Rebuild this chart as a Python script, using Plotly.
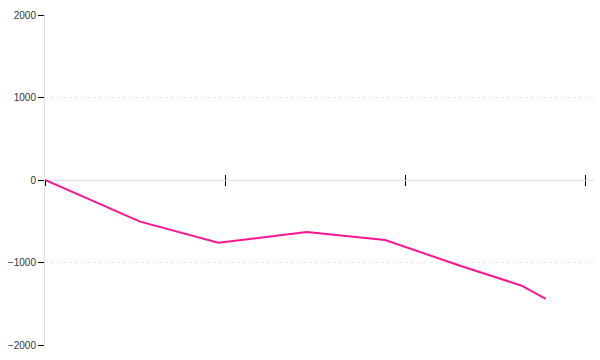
import plotly.graph_objects as go

x_vals = [0, 0.528, 0.963, 1.454, 1.889, 2.306, 2.648, 2.782]
y_vals = [0, -505, -761, -630, -727, -1039, -1281, -1442]
y_ticks = [-2000, -1000, 0, 1000, 2000]
y_tick_text = ["\u22122000", "\u22121000", "0", "1000", "2000"]
x_ticks = [0, 1, 2, 3]
x_range = [0, 3.05]

fig = go.Figure()
fig.add_trace(go.Scatter(x=x_vals, y=y_vals, mode="lines",
                         line=dict(color="#ff1493", width=2), showlegend=False,
                         cliponaxis=False))
# overlay axis for the upper half of the crossing x ticks
fig.add_trace(go.Scatter(x=[0, 3], y=[0, 0], mode="lines", line=dict(width=0),
                         xaxis="x2", showlegend=False, hoverinfo="skip"))

fig.update_layout(
    width=600, height=360,
    margin=dict(l=45, r=6, t=15, b=15, autoexpand=False),
    paper_bgcolor="white", plot_bgcolor="white",
    font=dict(family="Liberation Sans", size=10, color="#333"),
    xaxis=dict(range=x_range, tickvals=x_ticks, showticklabels=False, automargin=False,
               showgrid=False, zeroline=False, showline=False,
               ticks="outside", ticklen=5, tickcolor="black", tickwidth=1,
               anchor="free", position=0.5),
    xaxis2=dict(range=x_range, tickvals=x_ticks, showticklabels=False, automargin=False,
                showgrid=False, zeroline=False, showline=False,
                ticks="inside", ticklen=5, tickcolor="black", tickwidth=1,
                overlaying="x", anchor="free", position=0.5, side="bottom"),
    yaxis=dict(range=[-2000, 2000], tickvals=y_ticks, ticktext=y_tick_text, automargin=False,
               showgrid=True, gridcolor="#e8e8e8", griddash="dot", gridwidth=1,
               zeroline=True, zerolinecolor="#dddddd", zerolinewidth=1,
               showline=True, linecolor="#dddddd", linewidth=1,
               ticks="outside", ticklen=6, tickcolor="black", tickwidth=1),
)

fig.write_html("out.html")
